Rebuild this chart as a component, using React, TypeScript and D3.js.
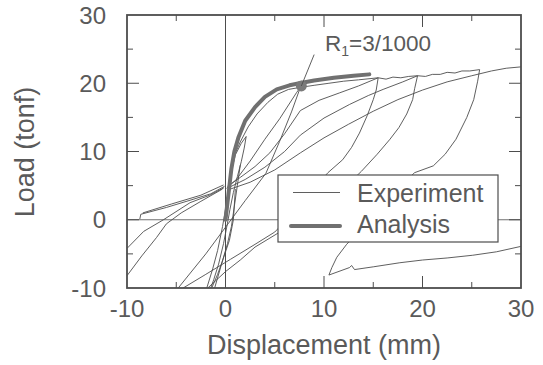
import * as d3 from "d3";

type Pt = [number, number];

// tick values and labels
const tickSteps = [-10, -5, 0, 5, 10, 15, 20, 25, 30];
const xTickLabels = [-10, 0, 10, 20, 30];
const yTickLabels = [-10, 0, 10, 20, 30];

// analysis (thick gray) curve: displacement (mm), load (tonf)
const analysisCurve: Pt[] = [[0, 0], [0.2, 2.5], [0.4, 5], [0.6, 7.5], [0.9, 10], [1.3, 12], [2, 14.5], [3, 16.5], [4, 18], [5.2, 19.1], [6.5, 19.7], [7.5, 20], [9, 20.4], [11, 20.8], [13, 21.1], [14.6, 21.3]];
const r1Point: Pt = [7.7, 19.6];
const r1Pointer: Pt[] = [[9.0, 24.2], [7.7, 19.6]];

// experiment branches
const envelopeExp: Pt[] = [[0, 0], [0.15, 2.5], [0.35, 5], [0.6, 7.5], [0.95, 9.6], [1.5, 11.4], [2.3, 13.6], [3.2, 15.5], [4.3, 17.2], [5.3, 18.4], [6.4, 19.1], [7.6, 19.4], [9, 19.7], [10.5, 20], [12, 20.3], [13.5, 20.5], [15.5, 20.8]];
const spikeCycle: Pt[] = [[0.1, 2], [0.5, 6.5], [1.0, 9.5], [1.6, 11.2], [2.1, 12.2], [1.9, 10.5], [1.6, 8.5], [1.2, 6.3], [0.8, 4], [0.45, 1.5], [0.2, -0.5], [-0.2, -3.5], [-0.7, -6.5], [-1.2, -8.8], [-1.5, -10]];
const r1Steep: Pt[] = [[-4.8, -10], [-2, -5], [0, -1.1], [2, 2.8], [4.1, 6.8], [5.5, 11.5], [6.7, 15.8], [7.6, 19.4]];
const r1Reload: Pt[] = [[0.1, 4.6], [1.1, 5.9], [2.5, 8.6], [4, 11.8], [5.5, 14.8], [7.2, 18.6], [7.6, 19.4]];
const reloadP1: Pt[] = [[0.2, 4.9], [1.5, 6.2], [3, 7.8], [4.5, 9.8], [6, 12.6], [7.6, 16.0], [9.5, 17.5], [11.6, 18.6], [13.5, 19.6], [15.5, 20.8]];
const reloadP2: Pt[] = [[0.3, 4.7], [2, 5.9], [4, 7.7], [6, 10], [7.6, 12.4], [10, 14.9], [12.6, 16.9], [14.5, 18.2], [16, 19.1], [18, 20.2], [19.5, 21.1]];
const reloadP3: Pt[] = [[0.5, 4.5], [2.5, 5.5], [5, 7.3], [7.6, 9.8], [10, 12], [12.5, 14], [15, 15.9], [17.5, 17.6], [20, 19], [22.5, 20.2], [25, 21.1], [27, 21.8], [28.5, 22.2], [30, 22.4]];
const envP1P2: Pt[] = [[15.5, 20.8], [16.3, 20.6], [17, 20.9], [17.8, 20.8], [18.6, 21.0], [19.5, 21.1]];
const envP2P3: Pt[] = [[19.5, 21.1], [20.3, 21.0], [21, 21.3], [21.8, 21.3], [22.5, 21.6], [23.3, 21.5], [24, 21.8], [24.8, 21.8], [25.8, 22.0]];
const unloadP1: Pt[] = [[15.5, 20.8], [15.3, 19], [15, 17.6], [14.4, 15.3], [13.6, 12.7], [12.8, 10.6], [11.9, 8.8], [10.4, 6.9], [9, 4.6], [7.5, 2.2], [6.2, 0], [5, -1.8], [3, -3.6], [0.5, -5.8], [-2, -8], [-4.3, -10]];
const unloadP2: Pt[] = [[19.5, 21.1], [19.2, 19.2], [19, 17.6], [18.4, 15.5], [17.6, 13.5], [16.7, 11.8], [15.4, 9.6], [13.8, 7.1], [12, 4.6], [10, 1.9], [8, -0.4], [5.4, -1.9], [3, -4], [1.5, -5.9], [0, -7.6], [-1.8, -10]];
const unloadP3: Pt[] = [[25.8, 22], [25.6, 20.3], [25.2, 17.6], [24.5, 15], [23.4, 11.8], [22.3, 9.6], [21.1, 7.9], [19.2, 6.9], [17.5, 4.6], [15.8, 2], [14.3, -0.6], [12.3, -3.6], [11.3, -5.5], [10.8, -7.0], [10.5, -8.1], [12.6, -7.0], [12.8, -6.7], [13.1, -7.3], [15, -6.9], [17.7, -6.3], [20, -5.9], [22.5, -5.6], [25.1, -5.2], [27.5, -4.7], [30, -3.9]];
const negUpper: Pt[] = [[-10, -4.2], [-8.3, -1.7], [-6.3, 0], [-3.6, 2.5], [-1.6, 3.6], [-0.15, 4.7]];
const negLower: Pt[] = [[-10, -8.2], [-8.5, -5.3], [-7, -2.6], [-6, -0.6], [-4.5, 1.0], [-2.5, 2.7], [-0.3, 4.5]];
const negHook: Pt[] = [[-8.7, 0.1], [-8.6, 0.8], [-6, 1.8], [-3.5, 2.9], [-1.5, 3.8], [-0.1, 4.9]];
const negHook2: Pt[] = [[-8.4, 1.0], [-5.5, 2.3], [-2.5, 3.6], [-0.2, 5.1]];
const nearZero1: Pt[] = [[0.1, 2.4], [-0.3, -1], [-0.8, -4.5], [-1.3, -7.2], [-1.9, -10]];
const nearZero2: Pt[] = [[1.0, 4.5], [0.8, 0], [0.4, -3], [-0.3, -6], [-0.8, -8], [-1.4, -10]];
const nearZero3: Pt[] = [[-1.1, -10], [-0.4, -6.5], [0.2, -3.5], [0.6, -1], [0.9, 2], [1.2, 5], [1.5, 8]];

const experimentBranches: Pt[][] = [envelopeExp, spikeCycle, r1Steep, r1Reload, reloadP1, reloadP2, reloadP3, envP1P2, envP2P3, unloadP1, unloadP2, unloadP3, negUpper, negLower, negHook, negHook2, nearZero1, nearZero2, nearZero3];

export default function App() {
  const x = d3.scaleLinear().domain([-10, 30]).range([127, 521]);
  const y = d3.scaleLinear().domain([-10, 30]).range([288, 15]);
  const line = d3.line<Pt>().x(d => x(d[0])).y(d => y(d[1]));
  const ink = "#4d4d4d";
  const textInk = "#5a5a5a";
  const x0 = x(-10), x1 = x(30), y0 = y(-10), y1 = y(30);

  // inward ticks on all four sides
  const ticks = tickSteps.filter(v => v !== -10 && v !== 30).map(v => ({ v, len: v % 10 === 0 ? 12 : 6 }));

  return (
    <svg width={543} height={365} style={{ position: "absolute", left: 0, top: 0, background: "#fff" }} fontFamily="'Liberation Sans', Arial, sans-serif">
      <defs>
        <clipPath id="plotArea"><rect x={x0} y={y1} width={x1 - x0} height={y0 - y1} /></clipPath>
      </defs>

      {/* zero lines */}
      <line x1={x(0)} x2={x(0)} y1={y1} y2={y0} stroke={ink} strokeWidth={1} />
      <line x1={x0} x2={x1} y1={y(0)} y2={y(0)} stroke={ink} strokeWidth={0.8} />

      {/* experiment */}
      <g clipPath="url(#plotArea)" fill="none" stroke={ink} strokeWidth={0.9} strokeLinejoin="round">
        {experimentBranches.map((b, i) => <path key={i} d={line(b) ?? ""} />)}
      </g>

      {/* analysis */}
      <path d={line(analysisCurve) ?? ""} fill="none" stroke="#707070" strokeWidth={4} strokeLinecap="round" strokeLinejoin="round" />
      <circle cx={x(r1Point[0])} cy={y(r1Point[1])} r={5.5} fill="#7a7a7a" />
      <path d={line(r1Pointer) ?? ""} stroke={ink} strokeWidth={0.9} />
      <text x={325} y={51} fontSize={22.5} fill={textInk}>R<tspan fontSize={14} dy={5}>1</tspan><tspan dy={-5}>=3/1000</tspan></text>

      {/* frame and ticks */}
      <rect x={x0} y={y1} width={x1 - x0} height={y0 - y1} fill="none" stroke={ink} strokeWidth={1.8} />
      {ticks.map(t => (
        <g key={t.v} stroke={ink} strokeWidth={1}>
          <line x1={x(t.v)} x2={x(t.v)} y1={y0} y2={y0 - t.len} />
          <line x1={x(t.v)} x2={x(t.v)} y1={y1} y2={y1 + t.len} />
          <line x1={x0} x2={x0 + t.len} y1={y(t.v)} y2={y(t.v)} />
          <line x1={x1} x2={x1 - t.len} y1={y(t.v)} y2={y(t.v)} />
        </g>
      ))}

      {/* tick labels */}
      {xTickLabels.map(v => <text key={"x" + v} x={x(v)} y={317} fontSize={24} textAnchor="middle" fill={textInk}>{v}</text>)}
      {yTickLabels.map(v => <text key={"y" + v} x={106} y={y(v) + 8.5} fontSize={24} textAnchor="end" fill={textInk}>{v}</text>)}

      {/* axis titles */}
      <text x={(x0 + x1) / 2} y={354} fontSize={27} textAnchor="middle" fill={textInk}>Displacement (mm)</text>
      <text transform="translate(34,152) rotate(-90)" fontSize={27} textAnchor="middle" fill={textInk}>Load (tonf)</text>

      {/* legend */}
      <rect x={278} y={175} width={220} height={67} fill="#fff" stroke={ink} strokeWidth={1.2} />
      <line x1={293} x2={340} y1={192.5} y2={192.5} stroke={ink} strokeWidth={0.9} />
      <line x1={291} x2={340} y1={226} y2={226} stroke="#707070" strokeWidth={4} strokeLinecap="round" />
      <text x={357} y={201.5} fontSize={25} fill={textInk}>Experiment</text>
      <text x={357} y={233} fontSize={25} fill={textInk}>Analysis</text>
    </svg>
  );
}
